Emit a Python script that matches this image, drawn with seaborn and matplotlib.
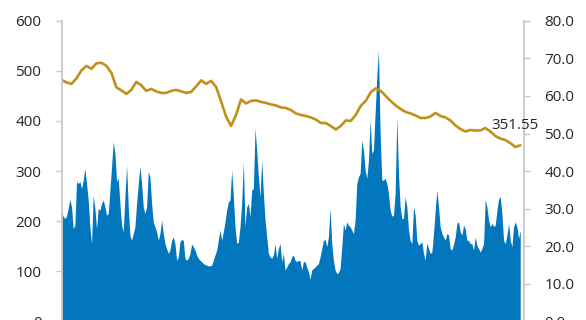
import numpy as np
import pandas as pd
import matplotlib
matplotlib.use("Agg")
import matplotlib.pyplot as plt
import seaborn as sns

# Volatility series (right axis), daily observations in four stretches
vol_a = [29.2, 27.9, 27.4, 28.0, 30.1, 32.5, 30.5, 24.7, 25.6, 37.2,
         36.7, 37.2, 35.4, 37.6, 40.7, 36.7, 32.3, 25.2, 20.7, 33.6,
         30.1, 24.7, 30.1, 29.6, 31.4, 32.3, 30.5, 28.3, 28.7, 34.9,
         41.2, 47.8, 44.7, 37.2, 38.1, 31.4, 25.6, 23.9, 33.2, 41.6,
         30.5, 23.0, 21.6, 23.4, 25.2, 31.4, 36.7, 41.2, 36.7, 30.5,
         28.7, 30.5, 39.8, 38.5, 31.4, 26.5, 25.2, 23.9, 21.6, 23.4,
         27.0, 23.4, 20.7, 19.4, 18.1, 19.0, 21.6, 22.5, 20.7, 16.3]
vol_b = [17.2, 21.2, 21.8, 21.6, 16.8, 16.3, 16.8, 18.1, 20.6, 19.9,
         19.0, 17.7, 16.8, 16.3, 15.9, 15.4, 15.2, 15.0, 14.8, 14.8,
         15.0, 16.3, 17.7, 19.0, 21.6, 24.3, 21.6, 23.9, 26.5, 29.6,
         31.8, 32.3, 40.3, 33.2, 25.2, 20.7, 21.2, 25.2, 31.4, 42.5,
         25.2, 30.5, 31.4, 27.9, 34.9, 35.4, 51.4, 45.6, 38.5, 33.2,
         42.9, 34.1, 27.0, 22.5, 18.1, 17.2, 16.8, 17.7, 20.7, 16.8,
         19.4, 20.7, 15.9, 18.1, 13.7, 14.5, 15.4, 15.9, 17.2, 17.7]
vol_c = [16.3, 15.9, 16.3, 16.1, 13.7, 15.9, 15.9, 14.5, 13.2, 11.2,
         13.7, 14.1, 14.5, 15.0, 15.4, 17.2, 19.4, 21.6, 21.8, 19.9,
         22.5, 30.1, 20.7, 16.3, 13.7, 12.8, 13.0, 14.1, 19.9, 26.1,
         24.3, 26.5, 25.6, 25.2, 24.3, 23.4, 27.0, 36.7, 38.5, 39.4,
         48.2, 45.6, 40.3, 38.1, 42.9, 53.6, 44.7, 45.6, 55.4, 65.1,
         72.2, 50.0, 37.6, 37.6, 38.1, 36.7, 34.1, 29.6, 28.0, 28.3,
         34.1, 54.5, 39.4, 30.5, 27.4, 27.4, 33.2, 30.5, 24.3]
vol_d = [21.6, 20.7, 30.5, 28.3, 21.6, 20.3, 20.7, 21.2, 18.1, 16.3,
         20.9, 19.4, 18.1, 18.5, 23.4, 29.6, 34.9, 30.5, 25.2, 23.4,
         22.5, 21.6, 23.4, 23.0, 19.4, 19.0, 20.6, 22.5, 26.1, 26.5,
         23.9, 23.0, 25.6, 24.7, 21.6, 21.6, 20.7, 20.7, 19.0, 22.5,
         20.3, 19.4, 18.5, 19.4, 20.7, 32.5, 30.5, 27.0, 25.2, 26.1,
         25.3, 25.6, 29.6, 32.5, 33.2, 28.7, 21.6, 20.7, 23.0, 26.1,
         21.6, 19.9, 25.2, 26.5, 25.2, 22.1, 24.3]
volatility = vol_a + vol_b + vol_c + vol_d

# Index level (left axis), sampled every third day
index_level = [482, 477, 474, 485, 501, 510, 504, 515, 516, 510,
               496, 467, 461, 454, 462, 478, 471, 460, 464, 459,
               456, 456, 460, 462, 459, 456, 458, 469, 481, 474,
               480, 468, 439, 409, 390, 412, 443, 435, 440, 441,
               438, 436, 433, 431, 427, 426, 422, 415, 412, 410,
               407, 403, 396, 396, 390, 383, 390, 401, 400, 412,
               430, 440, 457, 465, 460, 450, 440, 431, 424, 418,
               415, 411, 406, 406, 409, 416, 410, 407, 401, 391,
               384, 379, 382, 381, 381, 386, 379, 370, 365, 362,
               356, 348, 351.55]

left_ticks = [0, 100, 200, 300, 400, 500, 600]
right_ticks = [0, 10, 20, 30, 40, 50, 60, 70, 80]

AREA_COLOR = "#0277BD"
LINE_COLOR = "#C0901A"
SPINE_COLOR = "#C8C8C8"
TEXT_COLOR = "#262626"

sns.set_theme(style="white")
plt.rcParams["font.family"] = ["Open Sans", "DejaVu Sans"]

n = len(volatility)
vol_df = pd.DataFrame({"t": np.arange(n), "vol": volatility})
idx_df = pd.DataFrame({"t": np.linspace(0, n - 1, len(index_level)),
                       "level": index_level})

fig = plt.figure(figsize=(5.86, 3.2), dpi=100)
ax = fig.add_axes([0.105, -0.0047, 0.7897, 0.94])
ax2 = ax.twinx()

# Shaded volatility on the right scale
ax2.fill_between(vol_df["t"], 0, vol_df["vol"], color=AREA_COLOR,
                 linewidth=0)

# Index level line on the left scale, drawn above the area
sns.lineplot(data=idx_df, x="t", y="level", ax=ax, color=LINE_COLOR,
             linewidth=1.9)
ax.set_zorder(ax2.get_zorder() + 1)
ax.patch.set_visible(False)

ax.set_xlim(0, (n - 1) * 1.0088)
ax.set_ylim(0, 600)
ax2.set_ylim(0, 80)
ax.set_yticks(left_ticks)
ax.set_yticklabels([f"{v}" for v in left_ticks])
ax2.set_yticks(right_ticks)
ax2.set_yticklabels([f"{v:.1f}" for v in right_ticks])
ax.set_xlabel("")
ax.set_ylabel("")
ax2.set_ylabel("")

for a in (ax, ax2):
    for s in a.spines.values():
        s.set_visible(False)
ax.spines["left"].set_visible(True)
ax.spines["left"].set_color(SPINE_COLOR)
ax.spines["left"].set_linewidth(1.3)
ax2.spines["right"].set_visible(True)
ax2.spines["right"].set_color(SPINE_COLOR)
ax2.spines["right"].set_linewidth(1.3)

ax.tick_params(axis="x", bottom=False, labelbottom=False)
ax2.tick_params(axis="x", bottom=False, labelbottom=False)
ax.tick_params(axis="y", left=True, right=False, length=4, width=1,
               color=SPINE_COLOR, pad=10.5, labelsize=11,
               labelcolor=TEXT_COLOR)
ax2.tick_params(axis="y", left=False, right=True, labelleft=False,
                labelright=True, length=4, width=1, color=SPINE_COLOR,
                pad=10.5, labelsize=11, labelcolor=TEXT_COLOR)

# Latest value callout
last_t = idx_df["t"].iloc[-1]
last_v = idx_df["level"].iloc[-1]
ax.annotate(f"{last_v:.2f}", xy=(last_t, last_v), xytext=(-20.5, 11.5),
            textcoords="offset points", ha="left", va="baseline",
            fontsize=11, color=TEXT_COLOR)

fig.savefig("out.png", dpi=100)
